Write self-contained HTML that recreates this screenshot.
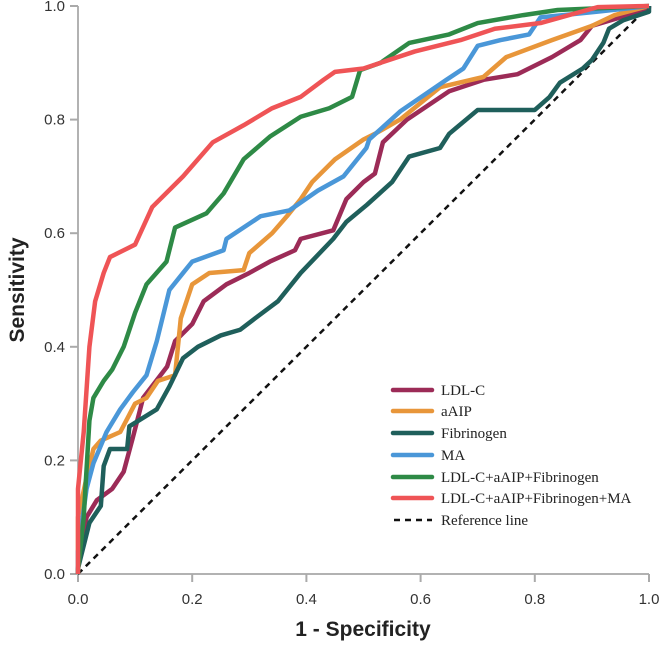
<!DOCTYPE html>
<html><head><meta charset="utf-8"><style>
body{margin:0;background:#fff}
svg text{font-family:"Liberation Sans",sans-serif}
</style></head><body>
<svg width="661" height="650" viewBox="0 0 661 650">
<g id="axes"></g>
<g id="plot"></g>
<g id="legend"></g>
<text x="363" y="636" text-anchor="middle" font-size="21" font-weight="bold" fill="#222">1 - Specificity</text>
<text transform="translate(24,290) rotate(-90)" text-anchor="middle" font-size="21" font-weight="bold" fill="#222">Sensitivity</text>
</svg>
<script>
const ticks=[0,0.2,0.4,0.6,0.8,1.0];
const tickLabels=["0.0","0.2","0.4","0.6","0.8","1.0"];
const seriesNames=["LDL-C","aAIP","Fibrinogen","MA","LDL-C+aAIP+Fibrinogen","LDL-C+aAIP+Fibrinogen+MA"];
const ldlFpr=[0,0,0.015,0.033,0.06,0.08,0.096,0.114,0.156,0.17,0.2,0.22,0.26,0.3,0.336,0.38,0.39,0.447,0.47,0.5,0.52,0.534,0.576,0.65,0.71,0.77,0.83,0.88,0.9,0.95,1,1];
const ldlTpr=[0,0.012,0.1,0.13,0.15,0.18,0.24,0.31,0.365,0.41,0.44,0.48,0.51,0.53,0.55,0.57,0.59,0.605,0.66,0.69,0.705,0.76,0.8,0.85,0.87,0.88,0.91,0.94,0.965,0.98,0.997,1];
const aipFpr=[0,0,0.015,0.027,0.04,0.074,0.1,0.12,0.14,0.17,0.18,0.2,0.23,0.29,0.3,0.34,0.366,0.39,0.41,0.45,0.5,0.52,0.564,0.634,0.71,0.75,0.83,0.9,0.94,1];
const aipTpr=[0,0.1,0.17,0.22,0.235,0.25,0.3,0.31,0.34,0.35,0.45,0.51,0.53,0.535,0.565,0.6,0.63,0.66,0.69,0.73,0.765,0.775,0.8,0.857,0.875,0.91,0.94,0.965,0.984,1];
const fibFpr=[0,0,0.02,0.04,0.045,0.056,0.086,0.09,0.138,0.16,0.184,0.21,0.25,0.284,0.31,0.35,0.39,0.447,0.47,0.506,0.55,0.58,0.634,0.65,0.7,0.8,0.826,0.844,0.884,0.9,0.92,0.93,0.955,1,1];
const fibTpr=[0,0.01,0.09,0.12,0.19,0.22,0.22,0.26,0.29,0.33,0.38,0.4,0.42,0.43,0.45,0.48,0.53,0.59,0.62,0.65,0.69,0.735,0.75,0.775,0.817,0.817,0.84,0.865,0.89,0.905,0.935,0.96,0.975,0.99,1];
const maFpr=[0,0,0.015,0.027,0.05,0.074,0.096,0.12,0.138,0.16,0.184,0.2,0.255,0.26,0.32,0.37,0.42,0.465,0.505,0.51,0.565,0.645,0.675,0.7,0.74,0.79,0.81,0.91,1];
const maTpr=[0,0.04,0.15,0.195,0.25,0.29,0.32,0.35,0.41,0.5,0.53,0.55,0.57,0.59,0.63,0.64,0.675,0.7,0.75,0.765,0.815,0.87,0.89,0.93,0.94,0.95,0.98,0.99,1];
const combFpr=[0,0,0.01,0.02,0.027,0.045,0.06,0.08,0.1,0.12,0.155,0.17,0.225,0.255,0.29,0.336,0.39,0.44,0.48,0.494,0.53,0.58,0.65,0.7,0.78,0.84,1];
const combTpr=[0,0.007,0.1,0.27,0.31,0.34,0.36,0.4,0.46,0.51,0.55,0.61,0.635,0.67,0.73,0.77,0.805,0.82,0.84,0.887,0.9,0.935,0.95,0.97,0.984,0.993,1];
const allFpr=[0,0,0.01,0.02,0.03,0.045,0.056,0.1,0.13,0.184,0.236,0.29,0.34,0.39,0.43,0.45,0.5,0.59,0.67,0.73,0.81,0.91,1];
const allTpr=[0,0.15,0.25,0.4,0.48,0.53,0.558,0.58,0.646,0.7,0.76,0.79,0.82,0.84,0.87,0.884,0.89,0.92,0.94,0.96,0.97,0.998,1];
const NS="http://www.w3.org/2000/svg";
const X0=78,X1=649,Y0=574,Y1=6;
function sx(v){return X0+v*(X1-X0);}
function sy(v){return Y0-v*(Y0-Y1);}
function mk(t,a,parent){const e=document.createElementNS(NS,t);for(const k in a)e.setAttribute(k,a[k]);parent.appendChild(e);return e;}
const axes=document.getElementById('axes'),plot=document.getElementById('plot'),leg=document.getElementById('legend');
const xl=mk('line',{x1:X0,y1:Y0,x2:X1,y2:Y0,stroke:'#999','stroke-width':1.5},axes);


const yl=mk('line',{x1:X0,y1:Y0,x2:X0,y2:Y1,stroke:'#999','stroke-width':1.5},axes);


ticks.forEach((t,i)=>{
 const a=mk('line',{x1:sx(t),y1:Y0,x2:sx(t),y2:Y0+8,stroke:'#aaa','stroke-width':2},axes);
 
 
 const b=mk('line',{x1:X0-8,y1:sy(t),x2:X0,y2:sy(t),stroke:'#aaa','stroke-width':2},axes);
 
 
 const tx=mk('text',{x:sx(t),y:Y0+30,'text-anchor':'middle','font-size':15,fill:'#333'},axes);tx.textContent=tickLabels[i];
 
 
 const ty=mk('text',{x:X0-13,y:sy(t)+5,'text-anchor':'end','font-size':15,fill:'#333'},axes);ty.textContent=tickLabels[i];
 
 
});
const ref=mk('line',{x1:sx(0),y1:sy(0),x2:sx(1),y2:sy(1),stroke:'#111','stroke-width':2.5,'stroke-dasharray':'6,5'},plot);


const series=[[ldlFpr,ldlTpr,'#9c2b57','ldl-c-curve'],[aipFpr,aipTpr,'#e8963a','aaip-curve'],[fibFpr,fibTpr,'#1f5f5b','fibrinogen-curve'],[maFpr,maTpr,'#4a97d8','ma-curve'],[combFpr,combTpr,'#2e8a46','combined-curve'],[allFpr,allTpr,'#ef5456','combined-ma-curve']];
series.forEach(s=>{
 const pts=s[0].map((f,i)=>sx(f)+','+sy(s[1][i])).join(' ');
 const p=mk('polyline',{points:pts,fill:'none',stroke:s[2],'stroke-width':4.5,'stroke-linejoin':'round'},plot);
 
 
});
const legY=[390,411,433,455,477,498];
seriesNames.forEach((n,i)=>{
 const l=mk('line',{x1:393,y1:legY[i],x2:432,y2:legY[i],stroke:series[i][2],'stroke-width':4.5,'stroke-linecap':'round'},leg);
 
 
 const t=mk('text',{x:441,y:legY[i]+5,'font-size':15,fill:'#222',style:'font-family:"Liberation Serif",serif'},leg);t.textContent=n;
 
 
});
const rl=mk('line',{x1:394,y1:520,x2:432,y2:520,stroke:'#111','stroke-width':2.5,'stroke-dasharray':'6,5'},leg);


const rt=mk('text',{x:441,y:525,'font-size':15,fill:'#222',style:'font-family:"Liberation Serif",serif'},leg);rt.textContent='Reference line';


</script>
</body></html>
